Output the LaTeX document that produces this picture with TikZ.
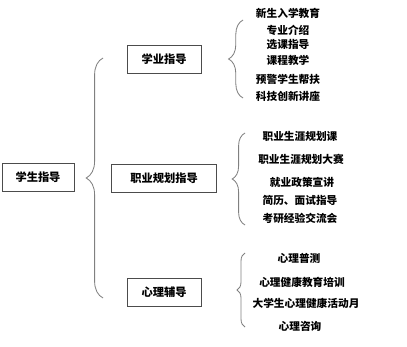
\documentclass[tikz,border=0pt]{standalone}
\usepackage{fontspec}
\setmainfont{Noto Sans CJK SC}
\usepackage{tikz}
\usetikzlibrary{decorations.pathreplacing}

\begin{document}
\begin{tikzpicture}[
    x=0.025cm, y=-0.025cm,
    box/.style     = {rectangle, draw=black!70, line width=0.6pt,
                      minimum height=0.7cm, inner sep=0pt,
                      align=center, font=\fontsize{8}{9.6}\selectfont\bfseries},
    item/.style    = {inner sep=0pt, font=\fontsize{7.6}{9}\selectfont\bfseries},
    curly/.style   = {decorate, draw=gray, line width=0.6pt,
                      decoration={brace, amplitude=#1}}
]
\useasboundingbox (0,0) rectangle (407,347);
\node[box, minimum width=1.8cm]   (root)  at (38, 177) {学生指导};
\node[box, minimum width=1.85cm]  (xueye) at (164, 59) {学业指导};
\node[box, minimum width=2.62cm]  (zhiye) at (164,178) {职业规划指导};
\node[box, minimum width=1.85cm]  (xinli) at (164,292) {心理辅导};
% braces
\coordinate (b0top) at (103, 58);  \coordinate (b0bot) at (103,298);
\coordinate (b1top) at (243, 20);  \coordinate (b1bot) at (243, 98);
\coordinate (b2top) at (245,133);  \coordinate (b2bot) at (245,225);
\coordinate (b3top) at (245,253);  \coordinate (b3bot) at (245,327);
\draw[curly=0.42cm] (b0bot) -- (b0top);
\draw[curly=0.36cm] (b1bot) -- (b1top);
\draw[curly=0.32cm] (b2bot) -- (b2top);
\draw[curly=0.2cm] (b3bot) -- (b3top);
% xueye items
\node[item] (x1) at (288, 13) {新生入学教育};
\node[item] (x2) at (288, 30) {专业介绍};
\node[item] (x3) at (288, 45) {选课指导};
\node[item] (x4) at (288, 60) {课程教学};
\node[item] (x5) at (288, 79) {预警学生帮扶};
\node[item] (x6) at (288, 96) {科技创新讲座};
% zhiye items
\node[item] (z1) at (300,136) {职业生涯规划课};
\node[item] (z2) at (301,159) {职业生涯规划大赛};
\node[item] (z3) at (302,182) {就业政策宣讲};
\node[item] (z4) at (300,200) {简历、面试指导};
\node[item] (z5) at (300,218) {考研经验交流会};
% xinli items
\node[item] (p1) at (299,258) {心理普测};
\node[item] (p2) at (302,282) {心理健康教育培训};
\node[item] (p3) at (306,303) {大学生心理健康活动月};
\node[item] (p4) at (300,326) {心理咨询};
\end{tikzpicture}
\end{document}
